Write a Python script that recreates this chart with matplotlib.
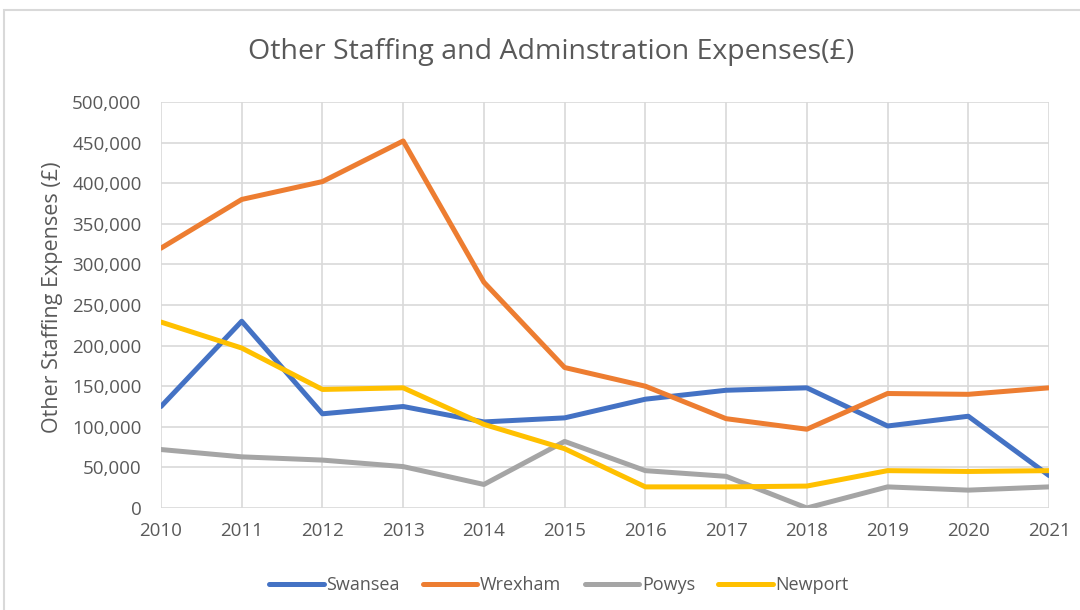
import matplotlib
matplotlib.use('Agg')
import matplotlib.pyplot as plt
from matplotlib.patches import Rectangle
from matplotlib.ticker import FuncFormatter

years = list(range(2010, 2022))
swansea = [125000, 230000, 116000, 125000, 106000, 111000, 134000, 145000, 148000, 101000, 113000, 40000]
wrexham = [320000, 380000, 402000, 452000, 278000, 173000, 150000, 110000, 97000, 141000, 140000, 148000]
powys = [72000, 63000, 59000, 51000, 29000, 82000, 46000, 39000, 0, 26000, 22000, 26000]
newport = [229000, 197000, 146000, 148000, 103000, 73000, 26000, 26000, 27000, 46000, 45000, 46000]

series = [("Swansea", swansea, '#4472C4'),
          ("Wrexham", wrexham, '#ED7D31'),
          ("Powys", powys, '#A5A5A5'),
          ("Newport", newport, '#FFC000')]

plt.rcParams['font.family'] = ['Open Sans', 'DejaVu Sans']
txt = '#595959'

fig = plt.figure(figsize=(10.8, 6.1), dpi=100)
fig.patches.append(Rectangle((4/1080, -0.1), 1.2, 1 - 10/610 + 0.1, transform=fig.transFigure,
                             fill=False, edgecolor='#D9D9D9', linewidth=1.5))
ax = fig.add_axes([161/1080, 1 - 508/610, 888/1080, 406/610])

for name, vals, col in series:
    ax.plot(years, vals, color=col, linewidth=3.6, label=name, solid_capstyle='round')

ax.set_xlim(2010, 2021)
ax.set_ylim(0, 500000)
ax.set_xticks(years)
ax.set_yticks(range(0, 500001, 50000))
ax.yaxis.set_major_formatter(FuncFormatter(lambda v, p: f'{int(v):,}'))
ax.grid(True, color='#D9D9D9', linewidth=1.2)
ax.set_axisbelow(True)
for s in ax.spines.values():
    s.set_visible(False)
ax.tick_params(length=0, labelsize=13.5, colors=txt)
ax.tick_params(axis='x', pad=10)
ax.tick_params(axis='y', pad=14)

ax.set_ylabel('Other Staffing Expenses (£)', fontsize=15.5, color=txt, labelpad=6)
ax.yaxis.set_label_coords(-0.11, 0.52)
fig.text(551/1080, 1 - 52/610, 'Other Staffing and Adminstration Expenses(£)',
         ha='center', va='center', fontsize=20.5, color=txt)

fig.legend(loc='center', bbox_to_anchor=(559/1080, 1 - 585/610), ncol=4, frameon=False,
           fontsize=13, labelcolor=txt, handlelength=3.0, handletextpad=0.15, columnspacing=1.3)

fig.savefig('out.png', dpi=100)
